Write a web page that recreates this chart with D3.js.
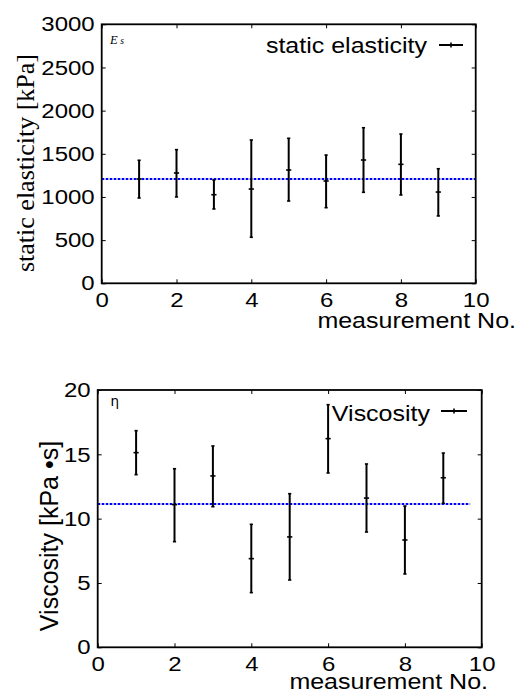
<!DOCTYPE html>
<html>
<head>
  <meta charset="utf-8">
  <script src="https://d3js.org/d3.v7.min.js"></script>
  <style>
    body { margin: 0; background: #fff; }
    text { font-family: "Liberation Sans", Arial, sans-serif; fill: #000; }
  </style>
</head>
<body>
<div id="vis"></div>
<script>
  // measurement numbers
  var measNo = [1, 2, 3, 4, 5, 6, 7, 8, 9];

  // static elasticity [kPa]
  var elastMean = [1208, 1278, 1026, 1092, 1312, 1185, 1428, 1378, 1057];
  var elastLow  = [988, 1000, 861, 533, 953, 876, 1054, 1023, 780];
  var elastHigh = [1425, 1548, 1197, 1660, 1680, 1486, 1802, 1729, 1327];
  var elastAvg = 1208;
  var elastAvgSpan = [0, 10];
  var elastTicks = [0, 500, 1000, 1500, 2000, 2500, 3000];

  // viscosity [kPa s]
  var viscMean = [15.13, 11.09, 13.32, 6.89, 8.58, 16.22, 11.6, 8.34, 13.18];
  var viscLow  = [13.42, 8.21, 10.93, 4.25, 5.23, 13.55, 8.96, 5.7, 11.19];
  var viscHigh = [16.84, 13.88, 15.65, 9.56, 11.94, 18.86, 14.25, 10.98, 15.1];
  var viscAvg = 11.14;
  var viscAvgSpan = [0, 9.7];
  var viscTicks = [0, 5, 10, 15, 20];

  var xTicks = [0, 2, 4, 6, 8, 10];

  // the reference text looks a bit flattened vertically
  var squash = "scale(1,0.87)";

  var svg = d3.select("#vis").append("svg")
    .attr("width", 523)
    .attr("height", 700);

  function flatText(g, x, y, str, size, anchor) {
    return g.append("text")
      .attr("transform", "translate(" + x + "," + y + ") " + squash)
      .attr("text-anchor", anchor)
      .style("font-size", size + "px")
      .text(str);
  }

  function drawPanel(p) {
    var x = d3.scaleLinear().domain([0, 10]).range([p.left, p.right]);
    var y = d3.scaleLinear().domain(p.yDomain).range([p.bottom, p.top]);
    var g = svg.append("g");

    // axes with inward ticks on all four sides
    g.append("g")
      .attr("transform", "translate(0," + p.bottom + ")")
      .call(d3.axisBottom(x).tickValues(xTicks).tickSize(-4).tickPadding(10).tickFormat(d3.format("d")))
      .call(function(a) {
        a.select(".domain").remove();
        a.selectAll("text").style("font-size", "24px").attr("fill", "#000").attr("transform", squash);
      });
    g.append("g")
      .attr("transform", "translate(0," + p.top + ")")
      .call(d3.axisTop(x).tickValues(xTicks).tickSize(-4).tickFormat(""))
      .call(function(a) { a.select(".domain").remove(); });
    g.append("g")
      .attr("transform", "translate(" + p.left + ",0)")
      .call(d3.axisLeft(y).tickValues(p.yTicks).tickSize(-4).tickPadding(7).tickFormat(d3.format("d")))
      .call(function(a) {
        a.select(".domain").remove();
        a.selectAll("text").style("font-size", "24px").attr("fill", "#000").attr("transform", squash);
      });
    g.append("g")
      .attr("transform", "translate(" + p.right + ",0)")
      .call(d3.axisRight(y).tickValues(p.yTicks).tickSize(-4).tickFormat(""))
      .call(function(a) { a.select(".domain").remove(); });

    // average line
    g.append("line")
      .attr("x1", x(p.avgSpan[0])).attr("x2", x(p.avgSpan[1]))
      .attr("y1", y(p.avg)).attr("y2", y(p.avg))
      .attr("stroke", "#0000ff")
      .attr("stroke-width", 2)
      .attr("stroke-dasharray", "2.6,1.4");

    // error bars
    var data = measNo.map(function(n, i) {
      return { n: n, m: p.mean[i], lo: p.low[i], hi: p.high[i] };
    });
    var eb = g.selectAll(".eb").data(data).enter().append("g").attr("class", "eb");
    eb.append("line")
      .attr("x1", function(d) { return x(d.n); }).attr("x2", function(d) { return x(d.n); })
      .attr("y1", function(d) { return y(d.lo); }).attr("y2", function(d) { return y(d.hi); })
      .attr("stroke", "#000").attr("stroke-width", 2);
    [["lo", 1.6], ["hi", 1.6], ["m", 2.6]].forEach(function(c) {
      eb.append("line")
        .attr("x1", function(d) { return x(d.n) - c[1]; }).attr("x2", function(d) { return x(d.n) + c[1]; })
        .attr("y1", function(d) { return y(d[c[0]]); }).attr("y2", function(d) { return y(d[c[0]]); })
        .attr("stroke", "#000").attr("stroke-width", 1.6);
    });

    // frame
    g.append("rect")
      .attr("x", p.left).attr("y", p.top)
      .attr("width", p.right - p.left).attr("height", p.bottom - p.top)
      .attr("fill", "none").attr("stroke", "#000").attr("stroke-width", 1.8);

    // legend
    flatText(g, p.legX, p.legY, p.legText, 25, "end");
    g.append("line")
      .attr("x1", p.legLine[0]).attr("x2", p.legLine[1])
      .attr("y1", p.legLine[2]).attr("y2", p.legLine[2])
      .attr("stroke", "#000").attr("stroke-width", 2);
    var mid = (p.legLine[0] + p.legLine[1]) / 2;
    g.append("line")
      .attr("x1", mid).attr("x2", mid)
      .attr("y1", p.legLine[2] - 2.6).attr("y2", p.legLine[2] + 2.6)
      .attr("stroke", "#000").attr("stroke-width", 1.6);

    // x label
    flatText(g, p.xLabX, p.xLabY, "measurement No.", 25, "end");
    return g;
  }

  var topPanel = drawPanel({
    left: 101.7, right: 475.7, top: 24.3, bottom: 283.3,
    yDomain: [0, 3000], yTicks: elastTicks,
    mean: elastMean, low: elastLow, high: elastHigh,
    avg: elastAvg, avgSpan: elastAvgSpan,
    legText: "static elasticity", legX: 427, legY: 53, legLine: [439, 463, 45],
    xLabX: 516, xLabY: 328
  });
  topPanel.append("text")
    .attr("transform", "translate(33.5,163) rotate(-90)")
    .attr("text-anchor", "middle")
    .style("font-family", "'Liberation Serif', 'Times New Roman', serif")
    .style("font-size", "26px")
    .text("static elasticity [kPa]");
  var es = topPanel.append("text")
    .attr("x", 110).attr("y", 44)
    .style("font-family", "'Liberation Serif', 'Times New Roman', serif")
    .style("font-style", "italic")
    .style("font-size", "12.5px");
  es.append("tspan").text("E");
  es.append("tspan").attr("dx", 2.5).style("font-size", "9.5px").text("s");

  var botPanel = drawPanel({
    left: 97.7, right: 481.7, top: 390, bottom: 647.3,
    yDomain: [0, 20], yTicks: viscTicks,
    mean: viscMean, low: viscLow, high: viscHigh,
    avg: viscAvg, avgSpan: viscAvgSpan,
    legText: "Viscosity", legX: 430, legY: 421, legLine: [441, 467, 411],
    xLabX: 488, xLabY: 688.5
  });
  botPanel.append("text")
    .attr("transform", "translate(58,536) rotate(-90)")
    .attr("text-anchor", "middle")
    .style("font-size", "25px")
    .text("Viscosity [kPa \u2022s]");
  botPanel.append("text")
    .attr("x", 110.5).attr("y", 406)
    .style("font-family", "'DejaVu Sans', sans-serif")
    .style("font-size", "13.5px")
    .text("\u03b7");
</script>
</body>
</html>
